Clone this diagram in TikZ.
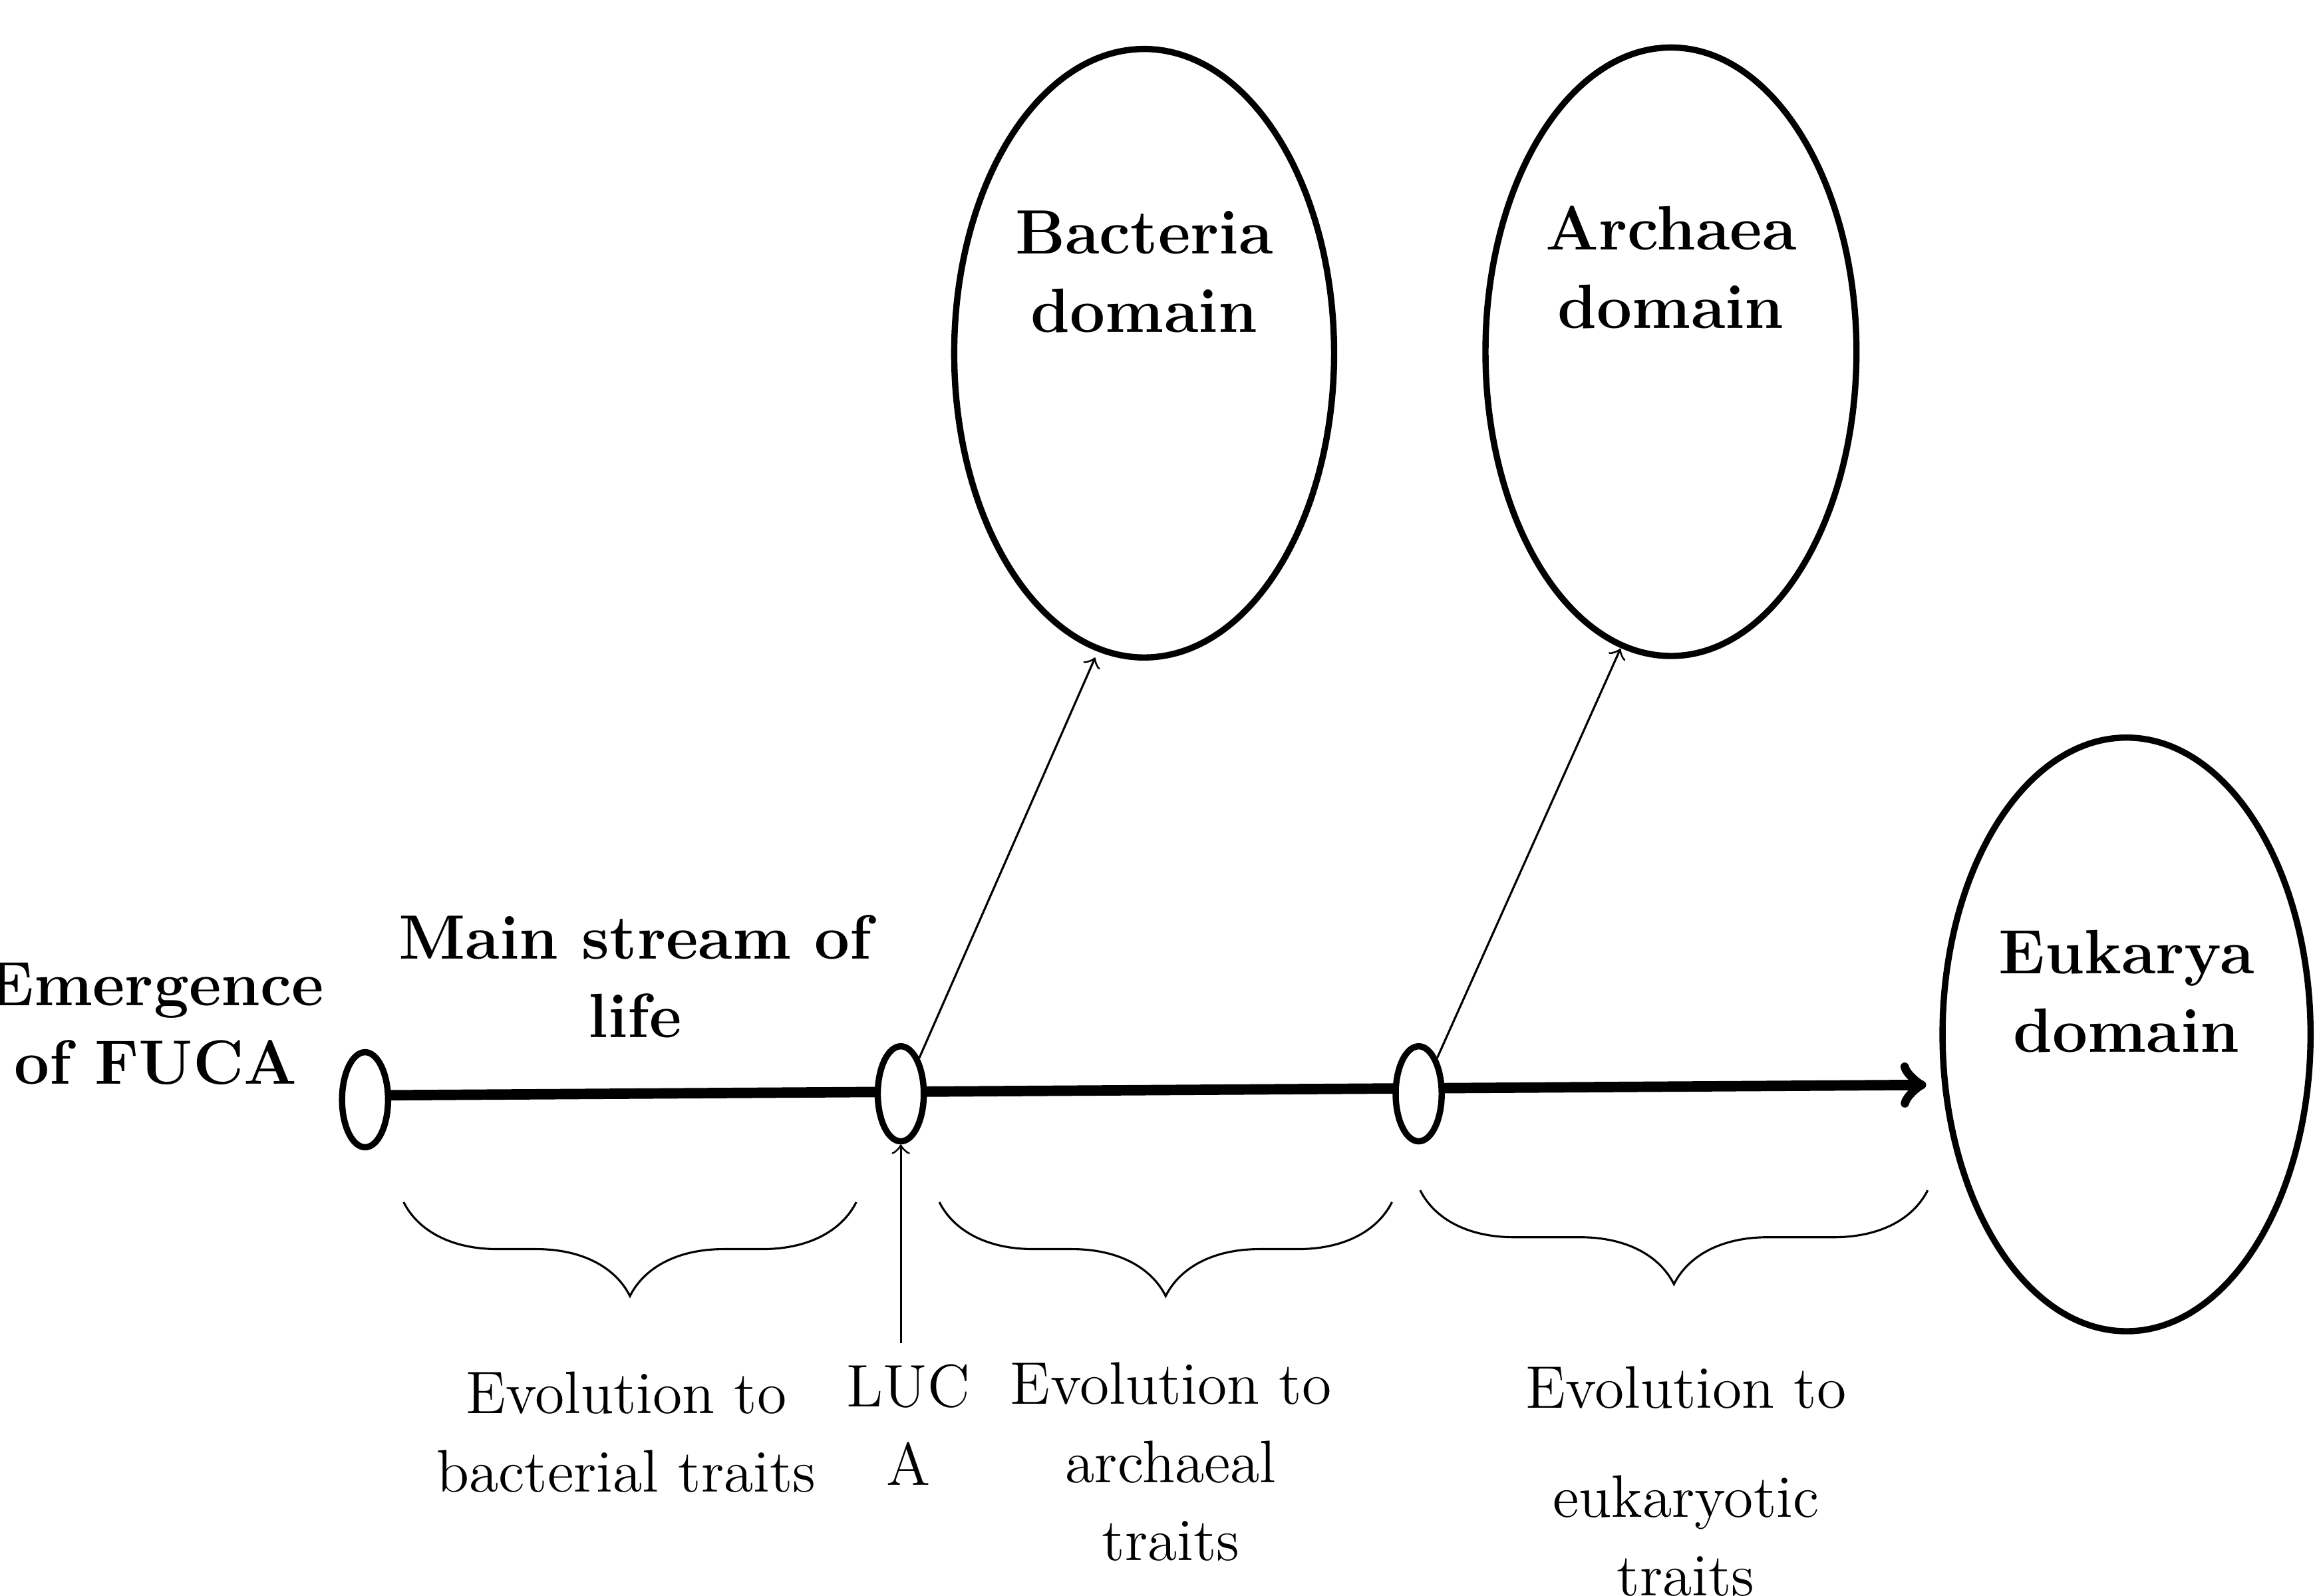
\documentclass[tikz,border=0pt]{standalone}
\usetikzlibrary{decorations.pathreplacing, shapes.geometric}
\tikzset{
  realm/.style = {line width = 1.2pt, align = center, font = \fontsize{12}{15}\selectfont\bfseries},
  stage/.style = {draw, ellipse, line width = 1.2pt, fill = white, inner sep = 0pt, minimum width = 0.31cm, minimum height = 0.64cm},
  note/.style = {align = center, font = \fontsize{11.5}{15}\selectfont},
  span/.style = {decorate, decoration = {brace, mirror, amplitude = 18pt}, thin}
}
\begin{document}
\begin{tikzpicture}[x = 0.01cm, y = -0.01cm]
						\useasboundingbox (0, 0) rectangle (1560, 1075);

						\draw [realm] (771, 238) ellipse (128 and 205);
						\draw [realm] (1126, 237) ellipse (125 and 205);
						\draw [realm] (1433, 697) ellipse (124 and 200);
						\node [realm] (B) at (771, 183) {Bacteria\\domain};
						\node [realm] (R) at (1126, 180) {Archaea\\domain};
						\node [realm] (E) at (1433, 668) {Eukarya\\domain};

						\coordinate (b) at (738, 443);
						\coordinate (r) at (1092, 437);
						\coordinate (e) at (1298, 731);
						\coordinate (l) at (607, 905);

						\draw [line width = 2pt, ->] (262, 738) -- (e);

						\node [stage] (F) at (246, 741) {};
						\node [stage] (L) at (607, 737) {};
						\node [stage] (A) at (956, 737) {};

						\draw [->, thin] (L.north east) -- (b);
						\draw [->, thin] (A.north east) -- (r);
						\draw [->, thin] (l) -- (L.south);

						\draw [span] (272, 810) -- (577, 810);
						\draw [span] (633, 810) -- (938, 810);
						\draw [span] (957, 802) -- (1299, 802);

						\node [note, font = \fontsize{12}{15}\selectfont\bfseries] (t1) at (105, 690) {Emergence\\of FUCA};
						\node [note, font = \fontsize{12}{15}\selectfont\bfseries] (t2) at (428, 658) {Main stream of\\life};
						\node [note] (t3) at (422, 965) {Evolution to\\bacterial traits};
						\node [note] (t4) at (612, 960) {LUC\\A};
						\node [note] (t5) at (789, 985) {Evolution to\\archaeal\\traits};
						\node [note] (t6) at (1136, 935) {Evolution to};
						\node [note] (t7) at (1136, 1035) {eukaryotic\\traits};
					\end{tikzpicture}
\end{document}
